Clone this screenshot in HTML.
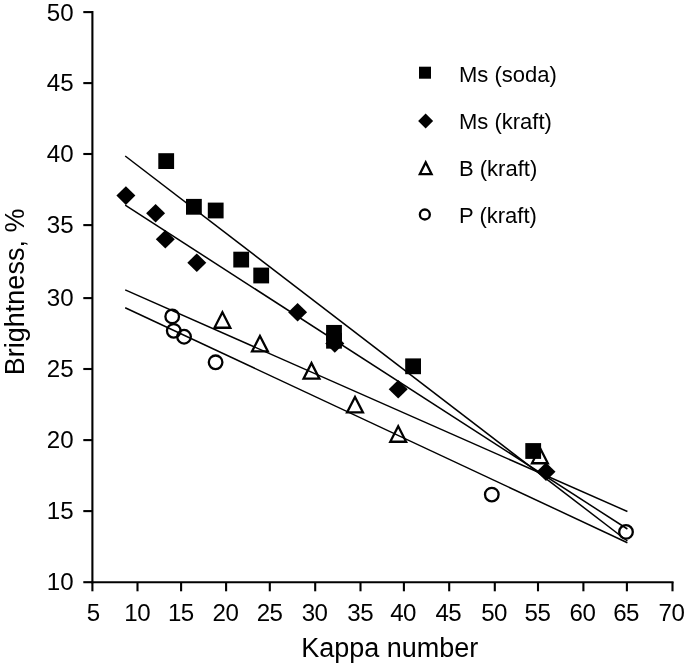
<!DOCTYPE html>
<html><head><meta charset="utf-8"><title>chart</title>
<style>
html,body{margin:0;padding:0;background:#fff;}
body{width:685px;height:666px;overflow:hidden;}
svg{display:block;will-change:transform;opacity:0.999;}
text{font-family:"Liberation Sans",sans-serif;fill:#000;}
.tk{font-size:24.5px;}
.ti{font-size:27px;}
.lg{font-size:22px;}
</style></head><body>
<svg width="685" height="666" viewBox="0 0 685 666">
<rect width="685" height="666" fill="#fff"/>

<g stroke="#000" stroke-width="2.1" fill="none">
<line x1="92.4" y1="11.049999999999999" x2="92.4" y2="583.25"/>
<line x1="91.35000000000001" y1="582.2" x2="673.55" y2="582.2"/>
<line x1="83.3" y1="582.20" x2="92.4" y2="582.20"/>
<line x1="83.3" y1="511.10" x2="92.4" y2="511.10"/>
<line x1="83.3" y1="440.10" x2="92.4" y2="440.10"/>
<line x1="83.3" y1="369.00" x2="92.4" y2="369.00"/>
<line x1="83.3" y1="298.10" x2="92.4" y2="298.10"/>
<line x1="83.3" y1="225.10" x2="92.4" y2="225.10"/>
<line x1="83.3" y1="154.00" x2="92.4" y2="154.00"/>
<line x1="83.3" y1="83.10" x2="92.4" y2="83.10"/>
<line x1="83.3" y1="12.10" x2="92.4" y2="12.10"/>
<line x1="92.40" y1="582.2" x2="92.40" y2="591.3"/>
<line x1="137.50" y1="582.2" x2="137.50" y2="591.3"/>
<line x1="181.10" y1="582.2" x2="181.10" y2="591.3"/>
<line x1="226.10" y1="582.2" x2="226.10" y2="591.3"/>
<line x1="269.80" y1="582.2" x2="269.80" y2="591.3"/>
<line x1="315.20" y1="582.2" x2="315.20" y2="591.3"/>
<line x1="360.50" y1="582.2" x2="360.50" y2="591.3"/>
<line x1="403.90" y1="582.2" x2="403.90" y2="591.3"/>
<line x1="449.20" y1="582.2" x2="449.20" y2="591.3"/>
<line x1="494.80" y1="582.2" x2="494.80" y2="591.3"/>
<line x1="538.00" y1="582.2" x2="538.00" y2="591.3"/>
<line x1="583.40" y1="582.2" x2="583.40" y2="591.3"/>
<line x1="626.90" y1="582.2" x2="626.90" y2="591.3"/>
<line x1="672.50" y1="582.2" x2="672.50" y2="591.3"/>
</g>
<text class="tk" transform="translate(73.6,590.10) scale(0.985,1)" text-anchor="end">10</text>
<text class="tk" transform="translate(73.6,519.35) scale(0.985,1)" text-anchor="end">15</text>
<text class="tk" transform="translate(73.6,447.95) scale(0.985,1)" text-anchor="end">20</text>
<text class="tk" transform="translate(73.6,377.35) scale(0.985,1)" text-anchor="end">25</text>
<text class="tk" transform="translate(73.6,306.20) scale(0.985,1)" text-anchor="end">30</text>
<text class="tk" transform="translate(73.6,233.20) scale(0.985,1)" text-anchor="end">35</text>
<text class="tk" transform="translate(73.6,162.35) scale(0.985,1)" text-anchor="end">40</text>
<text class="tk" transform="translate(73.6,91.20) scale(0.985,1)" text-anchor="end">45</text>
<text class="tk" transform="translate(73.6,20.65) scale(0.985,1)" text-anchor="end">50</text>
<text class="tk" transform="translate(93.40,620.8) scale(0.985,1)" text-anchor="middle">5</text>
<text class="tk" transform="translate(137.25,620.8) scale(0.985,1)" text-anchor="middle" letter-spacing="-0.5">10</text>
<text class="tk" transform="translate(180.85,620.8) scale(0.985,1)" text-anchor="middle" letter-spacing="-0.5">15</text>
<text class="tk" transform="translate(225.45,620.8) scale(0.985,1)" text-anchor="middle" letter-spacing="-0.5">20</text>
<text class="tk" transform="translate(269.55,620.8) scale(0.985,1)" text-anchor="middle" letter-spacing="-0.5">25</text>
<text class="tk" transform="translate(314.55,620.8) scale(0.985,1)" text-anchor="middle" letter-spacing="-0.5">30</text>
<text class="tk" transform="translate(360.25,620.8) scale(0.985,1)" text-anchor="middle" letter-spacing="-0.5">35</text>
<text class="tk" transform="translate(403.05,620.8) scale(0.985,1)" text-anchor="middle" letter-spacing="-0.5">40</text>
<text class="tk" transform="translate(448.35,620.8) scale(0.985,1)" text-anchor="middle" letter-spacing="-0.5">45</text>
<text class="tk" transform="translate(494.10,620.8) scale(0.985,1)" text-anchor="middle" letter-spacing="-0.5">50</text>
<text class="tk" transform="translate(537.45,620.8) scale(0.985,1)" text-anchor="middle" letter-spacing="-0.5">55</text>
<text class="tk" transform="translate(582.40,620.8) scale(0.985,1)" text-anchor="middle" letter-spacing="-0.5">60</text>
<text class="tk" transform="translate(626.05,620.8) scale(0.985,1)" text-anchor="middle" letter-spacing="-0.5">65</text>
<text class="tk" transform="translate(671.50,620.8) scale(0.985,1)" text-anchor="middle" letter-spacing="-0.5">70</text>
<text class="ti" x="389.7" y="656.6" text-anchor="middle">Kappa number</text>
<text class="ti" transform="translate(23.6,291.9) rotate(-90)" text-anchor="middle">Brightness, %</text>
<g stroke="#000" stroke-width="1.5" fill="none">
<line x1="125.2" y1="156.0" x2="627.4" y2="541.0"/>
<line x1="125.2" y1="205.2" x2="627.4" y2="529.0"/>
<line x1="125.2" y1="289.9" x2="627.4" y2="511.5"/>
<line x1="125.2" y1="307.7" x2="627.4" y2="542.7"/>
</g>
<path d="M222.40,309.70 L232.20,328.90 L212.60,328.90 Z M222.40,314.76 L228.44,326.60 L216.36,326.60 Z" fill="#000" fill-rule="evenodd"/>
<path d="M259.95,333.40 L269.75,352.60 L250.15,352.60 Z M259.95,338.46 L265.99,350.30 L253.91,350.30 Z" fill="#000" fill-rule="evenodd"/>
<path d="M311.50,360.60 L321.30,379.80 L301.70,379.80 Z M311.50,365.66 L317.54,377.50 L305.46,377.50 Z" fill="#000" fill-rule="evenodd"/>
<path d="M355.00,394.40 L364.80,413.60 L345.20,413.60 Z M355.00,399.46 L361.04,411.30 L348.96,411.30 Z" fill="#000" fill-rule="evenodd"/>
<path d="M398.20,423.70 L408.00,442.90 L388.40,442.90 Z M398.20,428.76 L404.24,440.60 L392.16,440.60 Z" fill="#000" fill-rule="evenodd"/>
<path d="M539.90,445.20 L549.70,464.40 L530.10,464.40 Z M539.90,450.26 L545.94,462.10 L533.86,462.10 Z" fill="#000" fill-rule="evenodd"/>
<circle cx="172.2" cy="316.4" r="6.8" fill="none" stroke="#000" stroke-width="2.3"/>
<circle cx="173.75" cy="330.85" r="6.8" fill="none" stroke="#000" stroke-width="2.3"/>
<circle cx="184.05" cy="336.75" r="6.8" fill="none" stroke="#000" stroke-width="2.3"/>
<circle cx="215.6" cy="362.3" r="6.8" fill="none" stroke="#000" stroke-width="2.3"/>
<circle cx="491.8" cy="494.6" r="6.8" fill="none" stroke="#000" stroke-width="2.3"/>
<circle cx="626.0" cy="531.9" r="6.8" fill="none" stroke="#000" stroke-width="2.3"/>
<rect x="158.30" y="153.20" width="15.8" height="15.8" fill="#000"/>
<rect x="186.00" y="198.90" width="15.8" height="15.8" fill="#000"/>
<rect x="207.80" y="202.60" width="15.8" height="15.8" fill="#000"/>
<rect x="233.30" y="251.70" width="15.8" height="15.8" fill="#000"/>
<rect x="253.30" y="267.60" width="15.8" height="15.8" fill="#000"/>
<rect x="326.10" y="324.95" width="15.8" height="15.8" fill="#000"/>
<rect x="326.10" y="332.85" width="15.8" height="15.8" fill="#000"/>
<rect x="405.20" y="358.40" width="15.8" height="15.8" fill="#000"/>
<rect x="525.30" y="443.10" width="15.8" height="15.8" fill="#000"/>
<polygon points="125.9,186.29999999999998 135.4,195.6 125.9,204.9 116.4,195.6" fill="#000"/>
<polygon points="155.6,203.89999999999998 165.1,213.2 155.6,222.5 146.1,213.2" fill="#000"/>
<polygon points="165.3,229.89999999999998 174.8,239.2 165.3,248.5 155.8,239.2" fill="#000"/>
<polygon points="196.8,253.39999999999998 206.3,262.7 196.8,272.0 187.3,262.7" fill="#000"/>
<polygon points="297.6,302.9 307.1,312.2 297.6,321.5 288.1,312.2" fill="#000"/>
<polygon points="334.8,334.09999999999997 344.3,343.4 334.8,352.7 325.3,343.4" fill="#000"/>
<polygon points="398.2,379.9 407.7,389.2 398.2,398.5 388.7,389.2" fill="#000"/>
<polygon points="546.0,462.4 555.5,471.7 546.0,481.0 536.5,471.7" fill="#000"/>
<rect x="419" y="66.7" width="12" height="12" fill="#000"/>
<polygon points="425.6,113.5 433.1,121 425.6,128.5 418.1,121" fill="#000"/>
<path d="M425.70,159.80 L433.45,175.20 L417.95,175.20 Z M425.70,164.92 L429.72,172.90 L421.68,172.90 Z" fill="#000" fill-rule="evenodd"/>
<circle cx="424.85" cy="214.5" r="5" fill="none" stroke="#000" stroke-width="2.3"/>
<text class="lg" x="459.0" y="81.9">Ms (soda)</text>
<text class="lg" x="459.0" y="128.6">Ms (kraft)</text>
<text class="lg" x="459.0" y="175.9">B (kraft)</text>
<text class="lg" x="459.0" y="223.2">P (kraft)</text>
</svg></body></html>
